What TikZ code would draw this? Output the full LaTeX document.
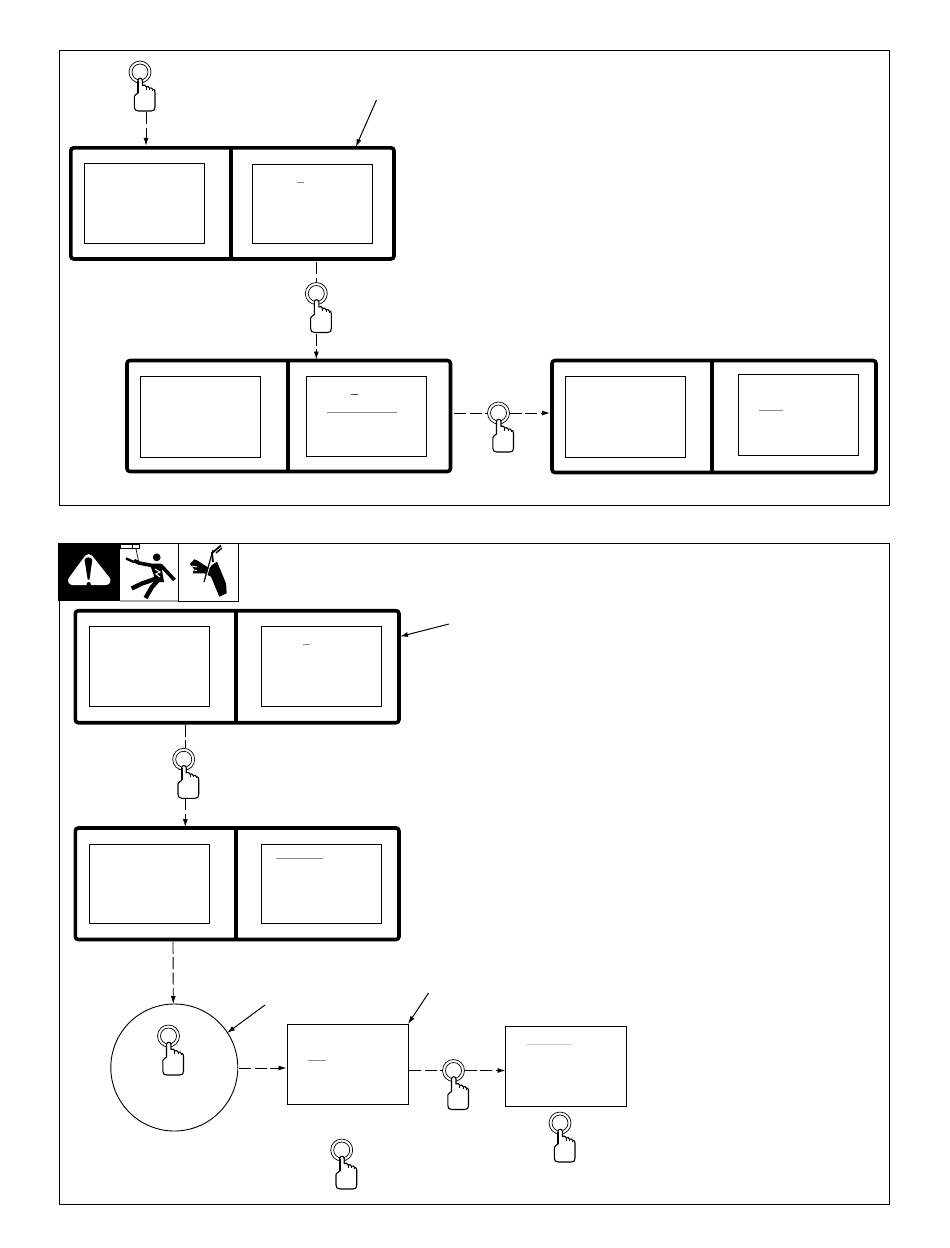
\documentclass[tikz,border=0pt]{standalone}
\usetikzlibrary{arrows.meta,calc}
\tikzset{
  x=1pt,y=-1pt,
  framebox/.style={draw=black,line width=0.9pt},
  thickbox/.style={draw=black,line width=3.6pt,rounded corners=3pt,rectangle,inner sep=0pt,outer sep=0pt},
  screen/.style={draw=black,line width=1pt,rectangle,inner sep=0pt,outer sep=0pt},
  divider/.style={draw=black,line width=3.6pt},
  mark line/.style={draw=black!45,line width=1pt},
  dashline/.style={draw=black,line width=0.9pt,dash pattern=on 12pt off 3.5pt},
  dasharrow/.style={dashline,-{Latex[length=8pt,width=5pt]}},
  leader/.style={draw=black,line width=1pt,-{Latex[length=8pt,width=5pt]}},
  button/.style={circle,draw=black,line width=0.7pt,minimum size=22pt,inner sep=0pt,outer sep=0pt},
  bigcircle/.style={circle,draw=black,line width=0.9pt,minimum size=127pt,inner sep=0pt,outer sep=0pt},
  handline/.style={draw=black,fill=white,line width=1.1pt,line join=round},
}
\newcommand{\rectnode}[6]{% style,name,x1,y1,x2,y2
  \pgfmathsetmacro{\rw}{#5-#3}\pgfmathsetmacro{\rh}{#6-#4}
  \node[#1,minimum width=\rw pt,minimum height=\rh pt,anchor=north west] (#2) at (#3,#4) {};
}
\newcommand{\handbtn}[3]{% name,x,y
  \node[button] (#1) at (#2,#3) {};
  \begin{scope}[shift={(#2,#3)}]
    \draw[draw=black,line width=0.7pt] (0,0) circle (8);
    \draw[handline] (-2,21) -- (-2,8.5) .. controls (-2,5.5) and (2.5,5.5) .. (2.5,8.5)
      -- (2.5,13.5) .. controls (4,12.5) and (6,13) .. (6.3,15)
      .. controls (7.5,14) and (9,14.5) .. (9.6,16.2)
      .. controls (11,15.5) and (12.5,16) .. (12.8,17.5)
      .. controls (14,17) and (15,18) .. (15,20)
      -- (15,35) .. controls (15,38) and (14,39) .. (11,39)
      -- (-1.5,39) .. controls (-4.5,39) and (-5.7,37.5) .. (-5.7,35)
      -- (-5.7,24.5) .. controls (-5,23) and (-3.5,22) .. (-2,21) -- cycle;
    \draw[black,line width=0.8pt] (6.3,15) -- (6.3,17.5) (9.6,16.2) -- (9.6,18) (12.8,17.5) -- (12.8,19);
    \draw[black,line width=1.6pt] (-2,9) -- (-2,21);
  \end{scope}
}
\begin{document}
\begin{tikzpicture}
\useasboundingbox (0,0) rectangle (950,1248);
% frames
\draw[framebox] (59,50.5) rectangle (889.5,505.5);
\draw[framebox] (59,543) rectangle (889.5,1204.5);

% ---- upper panel
\rectnode{thickbox}{b1}{70.8}{147.8}{394}{259}
\draw[divider] (231,147.8) -- (231,259);
\rectnode{screen}{s1a}{84.3}{163.5}{204.5}{243.2}
\rectnode{screen}{s1b}{252.5}{164.3}{372.7}{243.2}
\draw[mark line] (297,182.5) -- (304,182.5);

\rectnode{thickbox}{b2}{127}{360.5}{450.5}{471.5}
\draw[divider] (288,360.5) -- (288,471.5);
\rectnode{screen}{s2a}{140.8}{376.8}{260.5}{457}
\rectnode{screen}{s2b}{306.3}{376.5}{426.7}{456.7}
\draw[black!70,line width=1pt] (351,394.3) -- (358,394.3);
\draw[mark line] (327,412.5) -- (397,412.5);

\rectnode{thickbox}{b3}{552}{360.5}{876}{472.5}
\draw[divider] (712,360.5) -- (712,472.5);
\rectnode{screen}{s3a}{565.8}{376.8}{685.5}{457}
\rectnode{screen}{s3b}{738}{374.8}{858.7}{455}
\draw[mark line] (759,410.5) -- (783,410.5);

% ---- lower panel
\rectnode{thickbox}{b4}{75.3}{610.7}{399}{722.7}
\draw[divider] (236,610.7) -- (236,722.7);
\rectnode{screen}{s4a}{89.5}{626.5}{209.7}{706.7}
\rectnode{screen}{s4b}{261.5}{626.5}{381.7}{706.7}
\draw[mark line] (303,644.5) -- (310,644.5);

\rectnode{thickbox}{b5}{75.3}{828}{399}{939.5}
\draw[divider] (236,828) -- (236,939.5);
\rectnode{screen}{s5a}{89.5}{844}{209.7}{923.5}
\rectnode{screen}{s5b}{261.5}{844}{381.7}{923.5}
\draw[mark line] (276,858) -- (323,858);

\node[bigcircle] (c1) at (174.3,1067.5) {};
\rectnode{screen}{s6}{287.5}{1024.3}{408.5}{1104.3}
\draw[mark line] (308,1060.3) -- (326,1060.3);
\rectnode{screen}{s7}{505.5}{1026.3}{626.5}{1106.3}
\draw[black!20,line width=1.4pt] (526,1044.5) -- (572,1044.5);

% free ends of leaders
\coordinate (l1) at (376.5,100);
\coordinate (l2) at (449,624);
\coordinate (l3) at (265,1005);
\coordinate (l4) at (428.5,993);
\coordinate (t1) at (355.8,147);
\coordinate (t2) at (400,636.5);
\coordinate (t3) at (227,1033);
\coordinate (t4) at (408,1024);
\draw[leader] (l1) -- (t1);
\draw[leader] (l2) -- (t2);
\draw[leader] (l3) -- (t3);
\draw[leader] (l4) -- (t4);

% hands and buttons
\handbtn{h1}{140}{72}
\handbtn{h2}{316.3}{293.5}
\handbtn{h3}{498.5}{413}
\handbtn{h4}{183.7}{759.3}
\handbtn{h5}{168.5}{1036}
\handbtn{h6}{453.5}{1070.5}
\handbtn{h7}{341.7}{1150}
\handbtn{h8}{560}{1123}

% connectors
\draw[dasharrow] ($(h1)+(6,40)$) -- ($(b1.north west)+(75.2,-2)$);
\draw[dashline] ($(b1.south west)+(245.5,3)$) -- (h2.north);
\draw[dasharrow] ($(h2)+(0,40)$) -- ($(h2|-b2.north)+(0,-1)$);
\draw[dashline] ($(b2.east|-h3)+(3.5,0)$) -- (h3.west);
\draw[dasharrow] (h3.east) -- ($(b3.west|-h3)+(-2,0)$);
\draw[dashline] ($(b4.south west)+(110,2)$) -- ($(h4.north)+(1.6,0)$);
\draw[dasharrow] ($(h4)+(1.6,39)$) -- ($(b5.north west)+(110,-1)$);
\draw[dasharrow] ($(b5.south west)+(97.7,2)$) -- ($(c1.north)+(-1,0)$);
\draw[dasharrow] ($(c1.east)+(1.5,0.5)$) -- ($(s6.west|-c1)+(-1,0.5)$);
\draw[dashline] ($(s6.east|-h6)+(0.8,0)$) -- (h6.west);
\draw[dasharrow] (h6.east) -- (s7.west|-h6);

% hazard strip
\fill[black] (58,543) rectangle (119.5,601);
\fill[white,draw=white,line width=9pt,line join=round] (88.7,558.5) -- (72.5,580.5) -- (106,580.5) -- cycle;
\fill[black] (84.6,560) .. controls (84.6,556.5) and (92.2,556.5) .. (92.2,560) -- (89.5,579.5) -- (87.7,579.5) -- cycle;
\fill[black] (88.7,584.2) circle (2.2);

% shock panel
\fill[white] (119.5,543.5) rectangle (178.5,600);
\draw[black,line width=1pt] (119.5,543.5) -- (178.5,543.5);
\draw[black!35,line width=2pt] (119.5,600.7) -- (178.5,600.7);
\draw[black,line width=0.8pt] (120,544) rectangle (139,548.3) (132.7,544) -- (132.7,548.3);
\draw[black,line width=0.7pt] (136,549) -- (138.5,561);
\draw[black,line width=2.4pt,line join=round] (126,558.5) -- (134,562);
\draw[black,line width=3.6pt,line join=round] (134,560.5) -- (139,563) -- (152,565.5) -- (161,565.5) -- (174.5,580);
\fill[black] (156.7,557.3) circle (3.9);
\fill[black] (150,564.5) -- (161,564) -- (164,582) -- (156,582) -- cycle;
\draw[white,line width=1pt] (155,569) -- (160,572) -- (156,574) -- (160,577);
\draw[black,line width=4.4pt,line join=miter] (158,578) -- (142,583.5) -- (131.7,588.5);
\draw[black,line width=4.4pt] (159,579) -- (152,587) -- (145.5,598);

% hand panel
\draw[black,line width=1pt] (178.5,543.5) rectangle (238,601);
\fill[black] (190,564) -- (194.3,559.3) -- (197.7,560.7) -- (209.3,568.3) -- (212,565) -- (217,561.7) -- (226,583.3) -- (226.7,593.3) -- (219.3,596.7) -- (211,576.7) -- (204.3,573.3) -- (192.7,573.3) -- (194,569) -- cycle;
\draw[white,line width=0.9pt] (192,566) -- (197,567) (192.5,570) -- (197,570.5);
\draw[white,line width=1pt] (211.5,559) -- (206.8,576);
\draw[black,line width=1.8pt] (221,545.5) -- (212,553) -- (213,562);
\draw[black,line width=1.2pt] (213,550) -- (204,582);
\draw[black,line width=1.4pt] (216,553) -- (222,548);
\end{tikzpicture}
\end{document}
